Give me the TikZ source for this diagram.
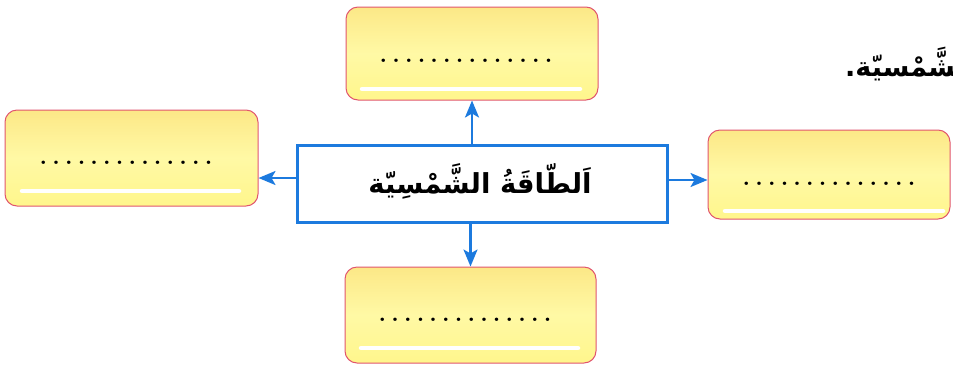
\documentclass[tikz,border=0pt]{standalone}
\usepackage{fontspec}
\TeXXeTstate=1
\newfontfamily\arabicfont[Script=Arabic]{DejaVu Sans}
\usetikzlibrary{calc,arrows.meta}
\definecolor{ablue}{RGB}{28,122,222}
\definecolor{boxfill}{RGB}{255,246,140}
\definecolor{boxmid}{RGB}{255,249,165}
\definecolor{boxtop}{RGB}{252,232,135}
\definecolor{boxedge}{RGB}{225,85,110}
\newcommand\dotrow{\fontsize{24}{24}\selectfont\bfseries\foreach \i in {1,...,14}{\makebox[12.7pt]{.}}}
\tikzset{
  ansbox/.style={draw=boxedge, line width=1pt, rounded corners=12pt,
    top color=boxtop, bottom color=boxfill, middle color=boxmid,
    minimum width=#1, inner sep=0pt},
  mainbox/.style={draw=ablue, line width=3pt, fill=white, inner sep=0pt,
    minimum width=370pt, minimum height=77pt},
  arr/.style={draw=ablue, line width=2.5pt, arrows={-Stealth[length=17pt, width=14pt, inset=4pt]}},
  shine/.style={draw=white, line width=4.5pt, line cap=round},
  dotsnode/.style={inner sep=0pt, anchor=base},
  artext/.style={inner sep=0pt, font=\arabicfont\bfseries}
}
\begin{document}
\begin{tikzpicture}[x=1pt,y=-1pt]
\useasboundingbox (0,0) rectangle (953,365);
% answer boxes
\node[ansbox=252pt, minimum height=93pt] (top) at (472,53.5) {};
\node[ansbox=253pt, minimum height=96pt] (lft) at (131.5,158) {};
\node[ansbox=242pt, minimum height=89pt] (rgt) at (829,174.5) {};
\node[ansbox=251pt, minimum height=96pt] (bot) at (470.5,315) {};
% shine lines
\draw[shine] (362,89) -- (580,89);
\draw[shine] (22,191) -- (239,191);
\draw[shine] (725,211) -- (943,211);
\draw[shine] (361,348) -- (578,348);
% dots
\node[dotsnode] (dtop) at (466,62) {\dotrow};
\node[dotsnode] (dlft) at (126,164) {\dotrow};
\node[dotsnode] (drgt) at (829,185) {\dotrow};
\node[dotsnode] (dbot) at (465,321) {\dotrow};
% central box
\node[mainbox] (c) at (482,183.5) {};
\node[artext, font=\arabicfont\bfseries\fontsize{27.5}{32}\selectfont] (ctext) at (480,181) {\beginR اَلطّاقَةُ الشَّمْسِيّة\endR};
% arrows
\draw[arr] (c.north -| top.south) -- (top.south);
\draw[arr] (c.south -| bot.north) -- (bot.north);
\draw[arr] ([yshift=5.5pt]c.west) -- ([yshift=5.5pt]c.west -| lft.east);
\draw[arr] ([yshift=3.5pt]c.east) -- ([yshift=3.5pt]c.east -| rgt.west);
% cut-off sentence at top right
\node[artext, anchor=base west, font=\arabicfont\bfseries\fontsize{27}{30}\selectfont] (frag) at (845,76) {\beginR الشَّمْسيّة.\endR};
\end{tikzpicture}
\end{document}
